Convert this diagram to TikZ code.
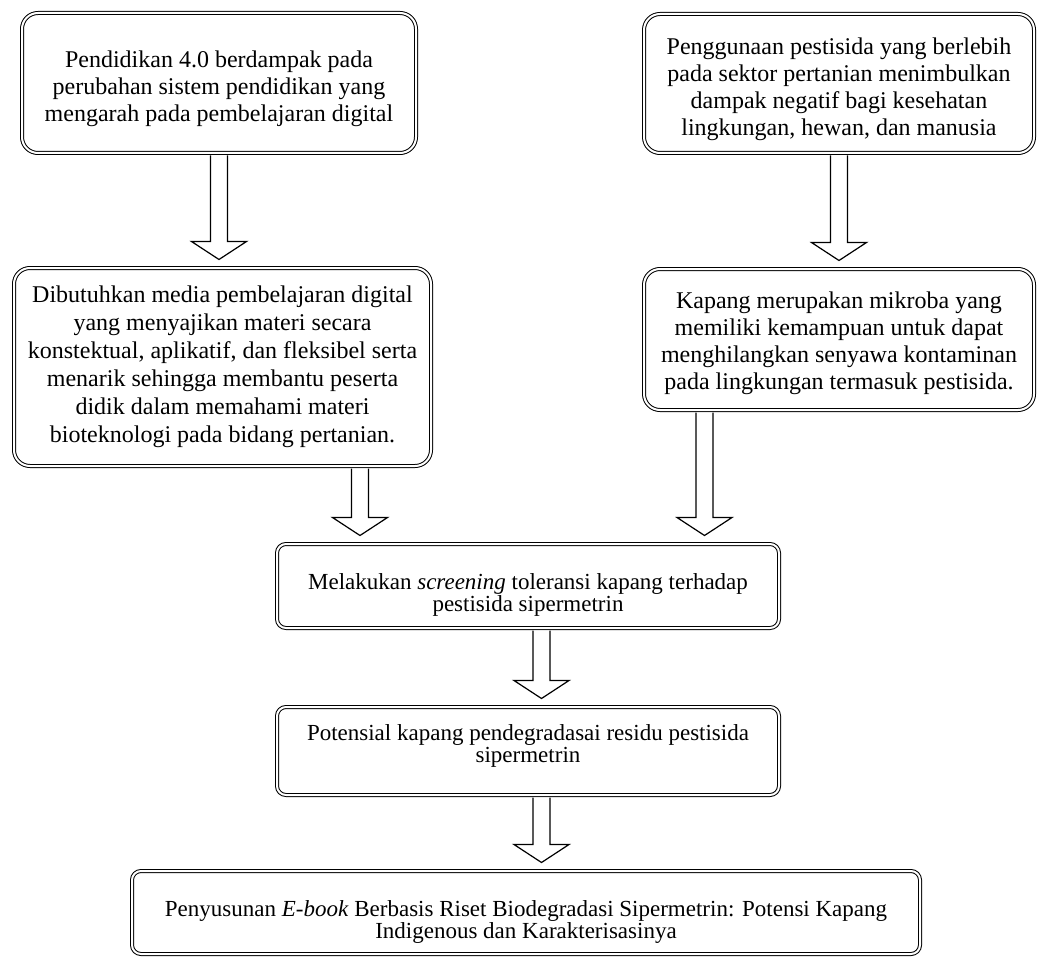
\documentclass[tikz,border=0pt]{standalone}
\usepackage{fontspec}
\setmainfont{Liberation Serif}
\usepackage{tikz}
\usetikzlibrary{calc}

\newcommand{\panahblok}[2]{%
  \draw[panah] let \p1=(#1), \p2=(#2) in
    (\x1-4.25pt,\y1-1pt) -- (\x1-4.25pt,\y2+13pt) -- (\x1-13.75pt,\y2+13pt)
    -- (\x1,\y2+4pt) -- (\x1+13.75pt,\y2+13pt) -- (\x1+4.25pt,\y2+13pt)
    -- (\x1+4.25pt,\y1-1pt);}
\newcommand{\geser}[1]{\rule{0pt}{#1}}

\begin{document}
\begin{tikzpicture}[x=0.5pt, y=-0.5pt,
  kotak/.style={draw, double, double distance=1pt, line width=0.5pt,
                align=center, fill=white, inner sep=2pt},
  atas/.style={kotak, rounded corners=8pt, font=\fontsize{12}{13.5}\selectfont},
  bawah/.style={kotak, rounded corners=4.5pt, font=\fontsize{11.5}{11}\selectfont},
  panah/.style={draw, fill=white, line width=0.6pt, line join=miter}]
\useasboundingbox (0,0) rectangle (1037,957);
\node[atas, minimum width=197pt, minimum height=70pt] (b1) at (219,83)
  {\geser{14.2pt}Pendidikan 4.0 berdampak pada\\perubahan sistem pendidikan yang\\mengarah pada pembelajaran digital};
\node[atas, minimum width=195pt, minimum height=69.5pt] (b3) at (839,83.5)
  {\geser{14.2pt}Penggunaan pestisida yang berlebih\\pada sektor pertanian menimbulkan\\dampak negatif bagi kesehatan\\lingkungan, hewan, dan manusia};
\node[atas, font=\fontsize{12}{14}\selectfont, minimum width=208.5pt, minimum height=99pt] (b2) at (222.5,367)
  {Dibutuhkan media pembelajaran digital\\yang menyajikan materi secara\\konstektual, aplikatif, dan fleksibel serta\\menarik sehingga membantu peserta\\didik dalam memahami materi\\bioteknologi pada bidang pertanian.};
\node[atas, minimum width=195pt, minimum height=70.5pt] (b4) at (839,339.5)
  {\geser{12.2pt}Kapang merupakan mikroba yang\\memiliki kemampuan untuk dapat\\menghilangkan senyawa kontaminan\\pada lingkungan termasuk pestisida.};
\node[bawah, minimum width=251pt, minimum height=42pt] (b5) at (528,586)
  {\geser{16.5pt}Melakukan \textit{screening} toleransi kapang terhadap\\pestisida sipermetrin};
\node[bawah, minimum width=251pt, minimum height=44pt] (b6) at (528,751)
  {Potensial kapang pendegradasai residu pestisida\\sipermetrin\rule[-7.5pt]{0pt}{0pt}};
\node[bawah, minimum width=394pt, minimum height=41.5pt] (b7) at (526,912.5)
  {\geser{17.5pt}Penyusunan \textit{E-book} Berbasis Riset Biodegradasi Sipermetrin: Potensi Kapang\\Indigenous dan Karakterisasinya};
\panahblok{b1.south}{b2.north}
\panahblok{b3.south}{b4.north}
\panahblok{$(b2.south east)+(-71.5,0)$}{b5.north}
\panahblok{$(b4.south west)+(61,0)$}{b5.north}
\panahblok{$(b5.south)+(13.5,0)$}{b6.north}
\panahblok{$(b6.south)+(13.5,0)$}{b7.north}
\end{tikzpicture}
\end{document}
